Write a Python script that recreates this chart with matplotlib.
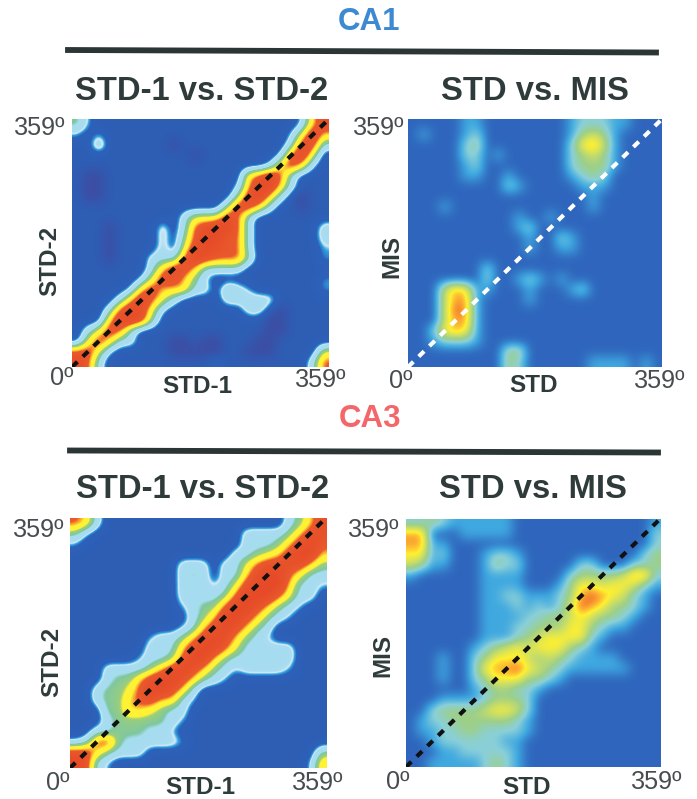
import matplotlib
matplotlib.use("Agg")
import matplotlib.pyplot as plt
from matplotlib.colors import LinearSegmentedColormap
from matplotlib.lines import Line2D
import numpy as np

plt.rcParams["font.family"] = ["Liberation Sans", "DejaVu Sans"]

W, H = 697, 799

# rate correlation levels, top row = 359 deg
CA1_STD_STD = [
    [4,2,1,1,1,1,1,1,1,1,1,1,1,1,1,1,1,1,1,1,1,2,6,8],
    [2,1,2,1,1,1,1,1,1,1,1,1,1,1,1,1,1,1,1,1,2,5,9,6],
    [1,1,4,1,1,1,1,1,1,0,1,1,1,1,1,1,1,1,1,1,3,8,8,3],
    [1,1,1,1,1,1,1,1,1,1,1,0,1,1,1,1,1,1,1,2,7,9,5,1],
    [1,1,1,1,1,1,1,1,1,1,1,1,1,1,1,1,1,1,2,6,8,6,2,1],
    [1,0,0,1,1,1,1,1,1,1,1,1,1,1,1,1,6,7,9,7,3,1,1,1],
    [1,0,0,1,1,1,1,1,1,1,1,1,1,1,1,2,6,9,9,6,3,1,1,1],
    [1,0,0,1,1,1,1,1,1,1,1,1,1,1,1,4,8,9,6,3,1,0,1,1],
    [1,1,1,1,1,1,1,1,1,1,1,1,1,1,4,8,8,6,3,1,1,0,1,1],
    [1,1,1,1,1,1,1,1,1,1,3,5,5,5,8,7,3,1,1,1,1,1,1,1],
    [1,1,1,0,1,1,1,1,3,1,3,7,8,9,9,7,3,1,1,1,1,1,1,3],
    [1,1,1,0,1,1,1,1,3,1,4,7,9,9,7,7,3,1,1,1,1,1,1,3],
    [1,1,1,0,1,1,1,1,3,1,5,8,9,8,7,7,3,1,1,1,1,1,1,2],
    [1,1,1,0,1,1,1,3,3,3,7,9,8,7,7,7,4,1,1,1,1,1,1,2],
    [1,1,1,1,1,1,1,3,6,8,8,6,3,3,3,3,1,1,1,1,1,1,1,1],
    [1,1,1,1,1,1,2,5,8,8,6,4,2,1,1,1,1,1,1,1,1,1,1,2],
    [1,1,1,1,1,2,6,8,6,6,6,3,3,1,4,3,2,1,1,1,1,1,1,2],
    [1,1,1,1,3,6,9,7,5,3,1,1,1,1,3,3,3,3,3,1,1,1,1,1],
    [1,1,1,3,7,9,8,5,2,1,1,1,1,1,1,1,3,3,1,0,1,1,1,1],
    [1,1,1,6,9,9,8,4,1,1,1,1,1,1,1,1,1,1,0,0,1,1,1,1],
    [1,3,5,8,7,3,1,1,1,1,1,1,1,1,1,1,1,1,0,0,1,1,1,1],
    [1,5,8,6,3,3,1,1,1,0,0,1,0,0,1,1,1,0,0,1,1,1,1,1],
    [7,8,5,2,1,1,1,1,1,0,0,0,0,0,1,1,0,0,0,1,1,1,1,5],
    [9,7,3,1,1,1,1,1,1,1,1,1,1,2,1,1,1,1,1,1,1,1,3,7],
]

CA1_STD_MIS = [
    [1,1,1,1,1,2,2,1,1,1,1,1,1,1,1,2,3,3,3,2,2,1,1,1],
    [1,2,1,1,1,2,3,1,1,1,1,1,1,1,1,2,4,5,4,2,1,1,1,1],
    [1,1,1,1,1,3,4,1,1,1,1,1,1,1,1,3,6,7,5,2,1,1,1,1],
    [1,1,1,1,1,3,3,1,2,1,1,1,1,1,1,3,4,5,4,2,1,1,1,1],
    [1,1,1,1,1,2,3,1,1,1,1,1,1,1,1,3,4,4,4,2,1,1,1,1],
    [1,1,1,1,1,2,2,1,1,2,1,1,1,1,1,2,3,4,3,1,1,1,1,1],
    [1,1,1,1,1,1,1,1,1,3,2,1,1,1,1,1,2,2,2,1,1,1,1,1],
    [1,1,1,1,1,1,1,1,1,1,1,1,1,1,1,1,1,2,1,1,1,1,1,1],
    [1,1,1,2,1,1,1,1,1,1,1,1,1,1,1,1,1,2,1,1,1,1,1,1],
    [1,1,1,1,1,1,1,1,1,1,2,1,1,2,1,1,1,1,1,1,1,1,1,1],
    [1,1,1,1,1,1,1,1,1,1,2,3,1,1,1,1,1,1,1,1,1,1,1,1],
    [1,1,1,1,1,1,1,1,1,1,1,2,1,1,3,2,1,1,1,1,1,1,1,1],
    [1,1,1,1,1,1,1,1,1,1,1,2,1,1,2,2,1,1,1,1,1,1,1,1],
    [1,1,1,1,1,1,1,1,1,1,1,1,1,1,1,1,1,1,1,1,1,1,1,1],
    [1,1,1,1,1,1,1,3,1,1,1,1,1,1,1,1,1,1,1,1,1,1,1,1],
    [1,1,1,1,1,1,1,3,1,1,2,3,2,1,2,1,1,1,1,1,1,1,1,1],
    [1,1,1,5,7,6,2,2,1,1,1,2,1,1,1,2,3,1,1,1,1,1,1,1],
    [1,1,1,5,7,7,2,1,1,1,1,2,1,1,1,1,1,1,1,1,1,1,1,1],
    [1,1,1,5,8,7,2,1,1,1,1,1,1,1,1,1,1,1,1,1,1,1,1,1],
    [1,1,1,5,7,7,2,1,1,1,1,1,1,1,1,1,1,1,1,1,1,1,1,1],
    [1,1,3,6,7,6,2,1,1,1,1,1,1,1,1,1,1,1,1,1,1,1,1,1],
    [1,1,2,3,3,3,2,1,1,1,1,1,1,1,1,1,1,1,1,1,1,1,1,1],
    [1,1,1,1,1,1,1,1,1,4,4,1,1,1,1,1,1,1,1,1,1,1,1,1],
    [1,1,1,1,1,1,1,1,1,4,3,1,1,1,1,1,1,2,2,2,2,1,2,1],
]

CA3_STD_STD = [
    [7,6,3,1,1,1,1,1,1,1,1,1,1,1,1,1,1,1,1,1,3,4,6,8],
    [4,2,1,1,1,1,1,1,1,1,1,1,1,1,1,1,3,3,3,3,4,6,8,8],
    [2,1,1,1,1,1,1,1,1,1,1,1,1,1,1,1,3,3,3,4,6,8,9,7],
    [1,1,1,1,1,1,1,1,1,1,1,1,1,1,1,3,3,4,5,6,8,9,9,6],
    [1,1,1,1,1,1,1,1,1,1,3,3,3,1,3,3,5,7,8,8,8,8,6,4],
    [1,1,1,1,1,1,1,1,1,1,3,4,3,1,3,3,6,8,9,9,7,5,3,3],
    [1,1,1,1,1,1,1,1,1,1,3,3,3,2,3,5,8,9,9,9,6,3,3,2],
    [1,1,1,1,1,1,1,1,1,1,3,3,3,3,4,7,9,9,9,7,5,3,3,1],
    [1,1,1,1,1,1,1,1,1,1,2,3,4,4,7,9,9,8,6,4,3,2,1,1],
    [1,1,1,1,1,1,1,1,1,1,1,3,4,6,9,9,8,6,4,3,2,1,1,1],
    [1,1,1,1,1,1,1,1,1,1,2,3,6,8,9,8,6,4,3,1,1,1,1,1],
    [1,1,1,1,1,1,1,2,3,3,4,6,8,9,8,6,4,3,2,1,1,1,1,1],
    [1,1,1,1,1,1,1,3,3,3,6,8,9,9,7,5,3,3,3,3,3,1,1,1],
    [1,1,1,1,1,1,2,3,3,4,7,9,9,6,4,3,3,3,3,3,3,1,1,1],
    [1,1,1,3,3,3,3,4,6,8,9,8,6,4,3,2,3,3,3,3,2,1,1,1],
    [1,1,1,3,4,4,6,8,9,9,8,6,4,3,2,1,1,1,1,1,1,1,1,1],
    [1,1,3,4,4,5,7,9,9,8,6,3,1,1,1,1,1,1,1,1,1,1,1,1],
    [1,1,3,4,4,6,7,8,6,6,3,2,1,1,1,1,1,1,1,1,1,1,1,1],
    [1,1,1,4,4,6,6,5,4,3,3,1,1,1,1,1,1,1,1,1,1,1,1,1],
    [1,1,1,3,4,4,4,4,4,3,2,1,1,1,1,1,1,1,1,1,1,1,1,1],
    [1,1,3,3,4,4,4,3,3,2,1,1,1,1,1,1,1,1,1,1,1,1,1,1],
    [2,3,7,8,4,3,3,3,3,3,2,1,1,1,1,1,1,1,1,1,1,1,1,1],
    [8,8,6,4,3,3,3,1,1,1,1,1,1,1,1,1,1,1,1,1,1,1,1,4],
    [9,8,3,2,1,1,1,1,1,1,1,1,1,1,1,1,1,1,1,1,1,1,2,6],
]

CA3_STD_MIS = [
    [3,3,4,3,2,2,2,2,2,2,1,1,1,1,1,1,1,1,1,1,1,1,1,2],
    [7,7,1,1,1,2,2,2,2,2,1,1,1,1,1,1,1,1,1,1,1,1,1,3],
    [7,7,2,2,1,1,1,1,1,1,1,1,1,1,1,1,1,1,1,1,1,1,1,3],
    [6,6,2,3,1,1,1,2,3,3,2,1,1,1,1,1,1,1,1,1,1,1,3,4],
    [5,4,2,2,1,1,1,2,4,3,3,1,1,1,1,1,3,3,1,1,1,3,3,4],
    [2,1,1,1,1,1,1,2,2,2,2,1,1,1,1,3,4,4,4,4,5,7,7,3],
    [1,1,1,1,1,1,1,2,2,2,2,1,1,1,2,4,6,6,5,6,6,5,3,2],
    [1,1,1,1,1,1,1,2,2,3,3,2,2,2,3,4,7,8,7,6,5,3,2,1],
    [1,1,1,1,1,1,1,2,2,2,3,2,3,2,3,5,8,7,6,4,4,3,2,1],
    [1,1,1,1,1,1,1,2,2,2,2,3,3,4,4,5,6,5,4,4,3,2,1,1],
    [1,1,1,1,1,1,1,2,2,2,3,3,4,4,4,6,6,4,3,2,2,1,1,1],
    [1,1,1,1,1,1,1,2,2,2,3,4,5,6,6,6,6,3,2,1,1,1,1,1],
    [1,1,1,1,1,1,2,3,4,5,6,5,6,6,6,4,3,2,1,1,1,1,1,1],
    [1,1,1,2,1,1,3,4,6,6,6,5,4,5,4,3,2,2,2,2,1,1,1,1],
    [1,1,1,2,1,1,3,6,7,7,8,6,5,4,3,2,2,2,2,2,2,1,1,1],
    [1,1,1,2,1,1,3,4,6,6,6,4,4,3,2,1,1,1,1,1,1,1,1,1],
    [1,1,1,1,1,1,2,3,4,4,3,3,2,1,1,1,1,1,1,1,1,1,1,1],
    [1,1,1,2,2,2,2,3,4,4,4,3,1,1,1,1,1,1,1,1,1,1,1,1],
    [1,1,3,4,4,4,4,5,6,6,5,3,1,1,1,1,1,1,1,1,1,1,1,1],
    [1,2,3,3,4,4,4,4,4,4,3,2,1,1,1,1,1,1,1,1,1,1,1,1],
    [1,2,2,3,3,4,4,3,3,3,3,2,1,1,1,1,1,1,1,1,1,1,1,1],
    [1,1,2,3,3,3,3,3,3,2,2,1,1,1,1,1,1,1,1,1,1,1,1,1],
    [1,1,1,2,2,3,3,3,3,3,2,1,1,1,1,1,1,1,1,1,1,1,1,1],
    [1,1,2,2,2,2,2,3,4,3,2,1,1,1,1,1,1,1,1,1,1,1,1,1],
]

ANGLE_MAX = 359

# contour-like colours for the STD-1 vs STD-2 maps, soft ones for STD vs MIS
STEP_STOPS = [(0.0, "#3c4ea4"), (0.12, "#2d5fb6"), (0.19, "#2d62ba"), (0.22, "#2f9fe0"),
              (0.245, "#cfeaf6"), (0.27, "#a9dcf2"), (0.38, "#a5dcee"), (0.41, "#7fc7a0"),
              (0.50, "#9fcf78"), (0.54, "#fff133"), (0.65, "#fff133"), (0.70, "#f9a52d"),
              (0.74, "#ea5a2d"), (1.0, "#e64a28")]
SOFT_STOPS = [(0.0, "#3c4ea4"), (0.11, "#2f66bd"), (0.22, "#3fa8e0"), (0.33, "#8ad0d8"),
              (0.44, "#9dcf8a"), (0.56, "#d0e060"), (0.67, "#fff030"), (0.78, "#fba030"),
              (0.89, "#e8552d"), (1.0, "#e64a28")]
step_cmap = LinearSegmentedColormap.from_list("steps", STEP_STOPS, N=512)
soft_cmap = LinearSegmentedColormap.from_list("soft", SOFT_STOPS, N=512)

DARK = "#2f3a3a"
GREY = "#474d4f"

fig = plt.figure(figsize=(W / 100, H / 100), dpi=100)


def px_text(x, y, s, **kw):
    fig.text(x / W, 1 - y / H, s, ha=kw.pop("ha", "center"), va="center", **kw)


def panel(box, grid, cmap, dash, title, tx, ty, xlabel, xl, yl_y, ylabel, yl_x, tick_y, ticks):
    left, top, right, bottom = box
    ax = fig.add_axes([left / W, 1 - bottom / H, (right - left) / W, (bottom - top) / H])
    ax.imshow(np.array(grid, dtype=float), cmap=cmap, vmin=0, vmax=9, aspect="auto",
              interpolation="bicubic", extent=[0, ANGLE_MAX, 0, ANGLE_MAX])
    ax.plot([0, ANGLE_MAX], [0, ANGLE_MAX], color=dash, lw=3, dashes=(1.8, 1.8))
    ax.set_xlim(0, ANGLE_MAX)
    ax.set_ylim(0, ANGLE_MAX)
    ax.axis("off")

    px_text(tx, ty, title, fontsize=23.6, fontweight="bold", color=DARK)
    px_text(xl, tick_y + 6, xlabel, fontsize=17.5, fontweight="bold", color=DARK)
    px_text(yl_x, yl_y, ylabel, fontsize=17.5, fontweight="bold", color=DARK, rotation=90)
    for x, y, s in ticks:
        px_text(x, y, s, fontsize=18.2, color=GREY)


panel((72, 119, 329, 367), CA1_STD_STD, step_cmap, "#111111", "STD-1 vs. STD-2", 202, 91,
      "STD-1", 197, 261, "STD-2", 50, 381,
      [(40, 128, "359º"), (62, 378, "0º"), (321, 380, "359º")])
panel((408, 119, 662, 367), CA1_STD_MIS, soft_cmap, "white", "STD vs. MIS", 535, 91,
      "STD", 534, 256, "MIS", 392, 379,
      [(379, 128, "359º"), (401, 381, "0º"), (660, 381, "359º")])
panel((70, 518, 326, 768), CA3_STD_STD, step_cmap, "#111111", "STD-1 vs. STD-2", 203, 490,
      "STD-1", 200, 662, "STD-2", 52, 782,
      [(39, 530, "359º"), (58, 783, "0º"), (318, 783, "359º")])
panel((406, 519, 660, 767), CA3_STD_MIS, soft_cmap, "#111111", "STD vs. MIS", 533, 490,
      "STD", 527, 655, "MIS", 383, 782,
      [(374, 530, "359º"), (398, 782, "0º"), (657, 782, "359º")])

px_text(369, 22, "CA1", fontsize=22.5, fontweight="bold", color="#3d8ad2")
px_text(370, 419, "CA3", fontsize=22.5, fontweight="bold", color="#f4666a")

# section rules, slightly tilted like the scanned original
fig.add_artist(Line2D([68 / W, 656 / W], [1 - 50 / H, 1 - 52.5 / H], color="#2b3535", lw=4.2))
fig.add_artist(Line2D([70 / W, 658 / W], [1 - 450.5 / H, 1 - 452.5 / H], color="#2b3535", lw=4.2))

fig.savefig("out.png", dpi=100)
